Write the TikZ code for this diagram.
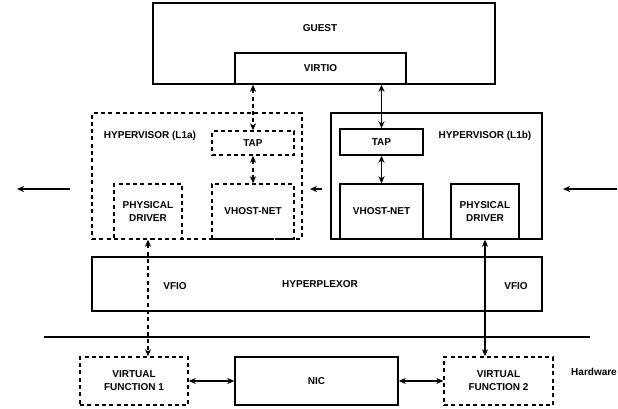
\documentclass[tikz,border=0pt]{standalone}
\usepackage{fontspec}
\setmainfont{Liberation Sans}
\usetikzlibrary{arrows.meta}
\begin{document}
\begin{tikzpicture}[x=1pt,y=-1pt,
  every node/.style={font=\fontsize{10}{13}\selectfont\bfseries, inner sep=0pt, align=center},
  box/.style={draw, line width=1.4pt, rectangle},
  dbox/.style={box, dash pattern=on 4pt off 3.3pt},
  conn/.style={line width=1.3pt, {Stealth[length=7pt,width=6pt,inset=2pt]}-{Stealth[length=7pt,width=6pt,inset=2pt]}},
  dconn/.style={conn, dash pattern=on 4pt off 3.3pt},
  oneway/.style={line width=1.3pt, -{Stealth[length=7pt,width=6pt,inset=2pt]}}]
\useasboundingbox (0,0) rectangle (618,408);

% guest VM
\node[box, minimum width=342pt, minimum height=81pt] (guest) at (324,43.5) {};
\node (guestlbl) at (320,28) {GUEST};
\node[box, minimum width=171pt, minimum height=31pt] (virtio) at (320.5,68.5) {VIRTIO};

% hypervisor L1a (dashed)
\node[dbox, minimum width=210pt, minimum height=126pt] (hypa) at (197,176) {};
\node (hypalbl) at (150,136) {HYPERVISOR (L1a)};
\node[dbox, minimum width=82pt, minimum height=24pt] (tapa) at (253,143) {TAP};
\node[dbox, minimum width=82pt, minimum height=55pt] (vhosta) at (253,211.5) {VHOST-NET};
\node[dbox, minimum width=68pt, minimum height=55pt] (pda) at (148,211.5) {PHYSICAL\\DRIVER};

% hypervisor L1b
\node[box, minimum width=211pt, minimum height=126pt] (hypb) at (436.5,176) {};
\node (hypblbl) at (485,136) {HYPERVISOR (L1b)};
\node[box, minimum width=83pt, minimum height=26pt] (tapb) at (381.5,142) {TAP};
\node[box, minimum width=83pt, minimum height=55pt] (vhostb) at (381.5,211.5) {VHOST-NET};
\node[box, minimum width=68pt, minimum height=55pt] (pdb) at (485,211.5) {PHYSICAL\\DRIVER};

% hyperplexor
\node[box, minimum width=450pt, minimum height=54pt] (hplex) at (317,284) {};
\node (hplexlbl) at (320,284) {HYPERPLEXOR};
\node (vfioa) at (175,286) {VFIO};
\node (vfiob) at (516,286) {VFIO};

% hardware boundary
\coordinate (hwl) at (44,337);
\coordinate (hwr) at (590,337);
\draw[line width=1.4pt] (hwl) -- (hwr);
\node[anchor=east] (hwlbl) at (617,372) {Hardware};

% hardware
\node[dbox, minimum width=108pt, minimum height=48pt] (vf1) at (134,381) {VIRTUAL\\FUNCTION 1};
\node[box, minimum width=163pt, minimum height=48pt] (nic) at (316.5,381) {NIC};
\node[dbox, minimum width=109pt, minimum height=48pt] (vf2) at (498.5,381) {VIRTUAL\\FUNCTION 2};

% connectors
\draw[dconn] (tapa.north |- virtio.south) -- (tapa.north);
\draw[conn] (tapb.north |- virtio.south) -- (tapb.north);
\draw[dconn] (tapa.south) -- (vhosta.north);
\draw[conn] (tapb.south) -- (vhostb.north);
\draw[dconn] (pda.south) -- (pda.south |- vf1.north);
\draw[conn] (pdb.south) -- (pdb.south |- vf2.north);
\draw[conn] (vf1.east) -- (nic.west);
\draw[conn] (nic.east) -- (vf2.west);

% migration direction arrows
\coordinate (la1) at (70,189);
\coordinate (la2) at (17,189);
\coordinate (ma1) at (322,189);
\coordinate (ma2) at (310,189);
\coordinate (ra1) at (617,189);
\coordinate (ra2) at (563,189);
\draw[oneway] (la1) -- (la2);
\draw[oneway] (ma1) -- (ma2);
\draw[oneway] (ra1) -- (ra2);
\end{tikzpicture}
\end{document}
